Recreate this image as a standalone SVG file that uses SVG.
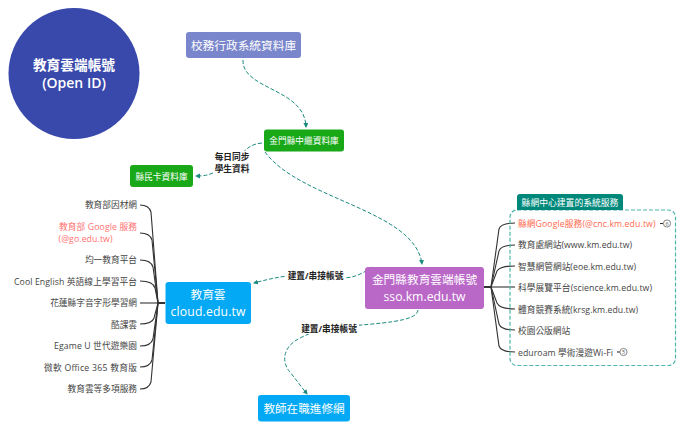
<svg xmlns="http://www.w3.org/2000/svg" width="694" height="430" viewBox="0 0 694 430">
<defs>
<marker id="a" markerWidth="6" markerHeight="6" refX="4" refY="2.5" orient="auto" markerUnits="userSpaceOnUse"><path d="M0 0L5 2.5L0 5z" fill="#1d8a80"/></marker>
</defs>
<style>
text{font-family:"Open Sans","Noto Sans CJK TC",sans-serif}
.w{fill:#fff;text-anchor:middle}
.i{font-size:8.7px;fill:#444}
.l{text-anchor:end}
.r{fill:#ff6a50}
.p{fill:#ff7070}
.b{font-size:8.700px;font-weight:700;fill:#222;text-anchor:middle}
.d{fill:none;stroke:#1d8a80;stroke-width:1;stroke-dasharray:4 2;marker-end:url(#a)}
.k{fill:none;stroke:#333;stroke-width:1.100}
</style>
<rect width="694" height="430" fill="#fff"/>
<g id="connectors">
<path class="d" d="M243 60C242 90 305 88 306 127"/>
<path class="d" d="M262 143C250 144 245 150 238 158"/>
<path class="d" d="M213 173C208 175 205 176 196 176"/>
<path class="d" d="M265 152C300 200 415 210 422 264"/>
<path class="d" d="M372 267C358 277 350 278 340 278C300 272 280 276 254 283"/>
<path class="d" d="M418 310C417 322 380 323 340 327C320 329 312 332 300 338C280 348 283 365 290 372L307 394"/>
<g class="k">
<path d="M165 303H158L151 212Q149 205 140 205"/>
<path d="M165 303H158L152 240Q150 233 140 233"/>
<path d="M165 303H158L153 267Q151 260 140 260"/>
<path d="M165 303H158L155 288Q153 281 140 281"/>
<path d="M165 303H140"/>
<path d="M165 303H158L154 318Q152 324 140 324"/>
<path d="M165 303H158L153 339Q151 346 140 346"/>
<path d="M165 303H158L152 360Q150 367 140 367"/>
<path d="M165 303H158L151 382Q149 389 140 389"/>
<path d="M484 287H491L499 229Q501 223 515 223"/>
<path d="M484 287H491L499 251Q501 245 515 245"/>
<path d="M484 287H491L497 271Q500 266 515 266"/>
<path d="M484 287H515"/>
<path d="M484 287H491L497 303Q500 309 515 309"/>
<path d="M484 287H491L499 324Q501 330 515 330"/>
<path d="M484 287H491L499 346Q501 352 515 352"/>
<path d="M660 223.500H663"/>
<path d="M617 352H620"/>
</g>
</g>
<g id="n-main"><circle cx="74" cy="73.500" r="65.500" fill="#3949ab"/><text class="w" x="74" y="70" font-size="13.700" font-weight="700">教育雲端帳號</text><text class="w" x="74" y="88" font-size="14" font-weight="600">(Open ID)</text></g>
<g id="n-school"><rect x="186" y="32" width="115" height="26" rx="3" fill="#7986cb"/><text class="w" x="243.500" y="49.500" font-size="11.700">校務行政系統資料庫</text></g>
<g id="n-relay"><rect x="264" y="129.500" width="80" height="22" rx="3" fill="#18a818"/><text class="w" x="304" y="144" font-size="8.700">金門縣中繼資料庫</text></g>
<g id="n-card"><rect x="130" y="165" width="63" height="22" rx="3" fill="#18a818"/><text class="w" x="161.500" y="179.500" font-size="8.700">縣民卡資料庫</text></g>
<g id="n-cloud"><rect x="165.500" y="282" width="85.500" height="42" rx="3" fill="#03a9f4"/><text class="w" x="208" y="299" font-size="11.700">教育雲</text><text class="w" x="208" y="315.500" font-size="12.200" textLength="75">cloud.edu.tw</text></g>
<g id="n-sso"><rect x="365" y="267" width="119" height="42" rx="3" fill="#ba68c8"/><text class="w" x="424.500" y="284" font-size="11.700">金門縣教育雲端帳號</text><text class="w" x="424.500" y="300.500" font-size="12.200" textLength="82">sso.km.edu.tw</text></g>
<g id="n-teacher"><rect x="258" y="395" width="92" height="26.500" rx="3" fill="#03a9f4"/><text class="w" x="304" y="412.500" font-size="11.600">教師在職進修網</text></g>
<g id="labels">
<rect x="213" y="151" width="38" height="23" fill="#fff"/>
<text class="b" x="232" y="160">每日同步</text><text class="b" x="232" y="172">學生資料</text>
<rect x="286" y="270" width="59" height="11" fill="#fff"/>
<text class="b" x="315.500" y="279">建置/串接帳號</text>
<rect x="300" y="322" width="59" height="12" fill="#fff"/>
<text class="b" x="329" y="331.500">建置/串接帳號</text>
</g>
<g id="n-left">
<text class="i l" x="137" y="208">教育部因材網</text>
<text class="i l p" x="137" y="230" textLength="78">教育部 Google 服務</text>
<text class="i p" x="58.500" y="242" textLength="54">(@go.edu.tw)</text>
<text class="i l" x="137" y="263">均一教育平台</text>
<text class="i l" x="137" y="285" textLength="123">Cool English 英語線上學習平台</text>
<text class="i l" x="137" y="306">花蓮縣字音字形學習網</text>
<text class="i l" x="137" y="328">酷課雲</text>
<text class="i l" x="137" y="349" textLength="83">Egame U 世代遊樂園</text>
<text class="i l" x="137" y="371" textLength="93">微軟 Office 365 教育版</text>
<text class="i l" x="137" y="392">教育雲等多項服務</text>
</g>
<g id="n-group">
<rect x="510" y="210" width="165.500" height="155.500" rx="7" fill="none" stroke="#4db6ac" stroke-width="1.200" stroke-dasharray="4 2"/>
<path d="M517 210V197a3 3 0 0 1 3-3H620a3 3 0 0 1 3 3V210z" fill="#00897b"/>
<text class="w" x="570" y="205.500" font-size="8.800">縣網中心建置的系統服務</text>
<text class="i r" x="518" y="226.500" textLength="137.500">縣網Google服務(@cnc.km.edu.tw)</text>
<text class="i" x="518" y="248" textLength="114">教育處網站(www.km.edu.tw)</text>
<text class="i" x="518" y="269.500" textLength="118">智慧網管網站(eoe.km.edu.tw)</text>
<text class="i" x="518" y="291" textLength="134">科學展覽平台(science.km.edu.tw)</text>
<text class="i" x="518" y="312.500" textLength="120">體育競賽系統(krsg.km.edu.tw)</text>
<text class="i" x="518" y="334">校園公版網站</text>
<text class="i" x="518" y="355.500" textLength="95">eduroam 學術漫遊Wi-Fi</text>
<circle cx="667" cy="223.500" r="3.600" fill="#fff" stroke="#555" stroke-width=".7"/><text x="667" y="225.500" font-size="5.500" text-anchor="middle" fill="#555">6</text>
<circle cx="623.500" cy="352" r="3.600" fill="#fff" stroke="#555" stroke-width=".7"/><text x="623.500" y="354" font-size="5.500" text-anchor="middle" fill="#555">5</text>
</g>
</svg>
